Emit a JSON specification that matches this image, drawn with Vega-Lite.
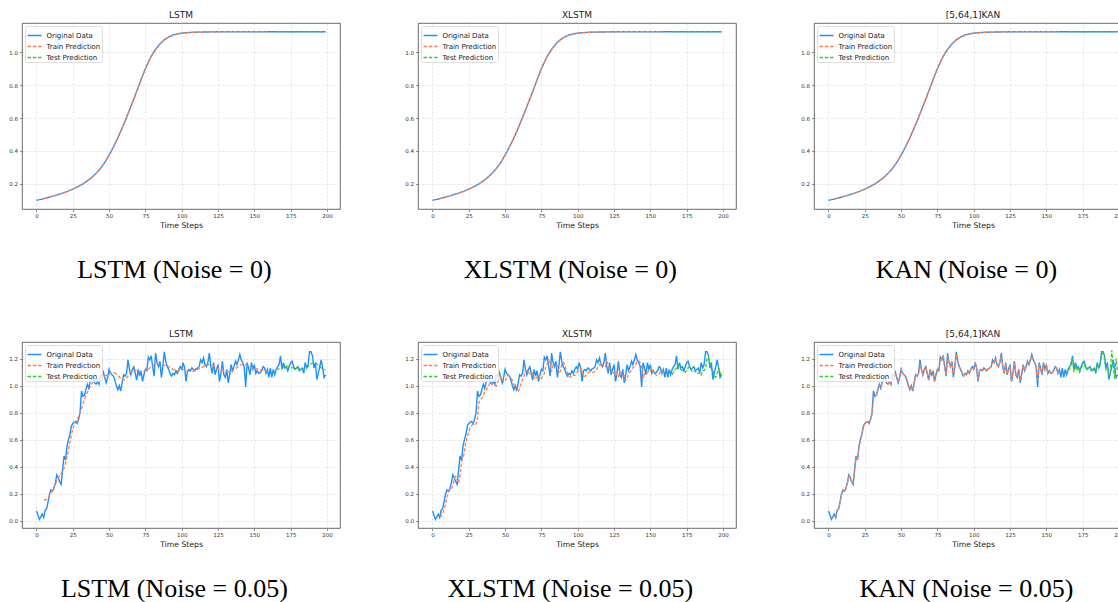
{
  "$schema": "https://vega.github.io/schema/vega-lite/v6.json",
  "padding": {"left": 8, "top": 10, "right": 0, "bottom": 0},
  "background": "white",
  "datasets": {
    "clean": [
      {"t":0,"v":0.100},{"t":5,"v":0.110},{"t":10,"v":0.122},{"t":15,"v":0.135},{"t":20,"v":0.150},{"t":25,"v":0.168},{"t":30,"v":0.190},{"t":35,"v":0.218},{"t":40,"v":0.255},{"t":45,"v":0.305},{"t":50,"v":0.375},{"t":55,"v":0.460},{"t":60,"v":0.560},{"t":65,"v":0.670},{"t":70,"v":0.785},{"t":75,"v":0.900},{"t":80,"v":0.990},{"t":85,"v":1.050},{"t":90,"v":1.088},{"t":95,"v":1.107},{"t":100,"v":1.116},{"t":105,"v":1.120},{"t":110,"v":1.122},{"t":115,"v":1.123},{"t":120,"v":1.124},{"t":130,"v":1.125},{"t":140,"v":1.125},{"t":150,"v":1.125},{"t":160,"v":1.125},{"t":170,"v":1.125},{"t":180,"v":1.125},{"t":190,"v":1.125},{"t":199,"v":1.125}
    ],
    "cleanTrain": [
      {"t":5,"v":0.110},{"t":10,"v":0.122},{"t":15,"v":0.135},{"t":20,"v":0.150},{"t":25,"v":0.168},{"t":30,"v":0.190},{"t":35,"v":0.218},{"t":40,"v":0.255},{"t":45,"v":0.305},{"t":50,"v":0.375},{"t":55,"v":0.460},{"t":60,"v":0.560},{"t":65,"v":0.670},{"t":70,"v":0.785},{"t":75,"v":0.900},{"t":80,"v":0.990},{"t":85,"v":1.050},{"t":90,"v":1.088},{"t":95,"v":1.107},{"t":100,"v":1.116},{"t":105,"v":1.120},{"t":110,"v":1.122},{"t":115,"v":1.123},{"t":120,"v":1.124},{"t":130,"v":1.125},{"t":140,"v":1.125},{"t":150,"v":1.125},{"t":159,"v":1.125}
    ],
    "cleanTest": [
      {"t":165,"v":1.125},{"t":175,"v":1.125},{"t":185,"v":1.125},{"t":199,"v":1.125}
    ],
    "noisy": [
      {"t":0,"v":0.074},{"t":1,"v":0.045},{"t":2,"v":0.012},{"t":3,"v":0.03},{"t":4,"v":0.05},{"t":5,"v":0.025},{"t":6,"v":0.08},{"t":7,"v":0.09},{"t":8,"v":0.14},{"t":9,"v":0.20},
      {"t":10,"v":0.23},{"t":11,"v":0.22},{"t":12,"v":0.24},{"t":13,"v":0.28},{"t":14,"v":0.34},{"t":15,"v":0.32},{"t":16,"v":0.29},{"t":17,"v":0.27},{"t":18,"v":0.38},{"t":19,"v":0.48},
      {"t":20,"v":0.45},{"t":21,"v":0.55},{"t":22,"v":0.60},{"t":23,"v":0.64},{"t":24,"v":0.70},{"t":25,"v":0.72},{"t":26,"v":0.73},{"t":27,"v":0.735},{"t":28,"v":0.72},{"t":29,"v":0.75},
      {"t":30,"v":0.80},{"t":31,"v":0.96},{"t":32,"v":0.92},{"t":33,"v":0.93},{"t":34,"v":0.97},{"t":35,"v":1.01},{"t":36,"v":0.98},{"t":37,"v":1.03},{"t":38,"v":1.045},{"t":39,"v":1.06},
      {"t":40,"v":1.02},{"t":41,"v":1.01},{"t":42,"v":1.03},{"t":43,"v":1.01},{"t":44,"v":1.08},{"t":45,"v":1.07},{"t":46,"v":1.10},{"t":47,"v":1.06},{"t":48,"v":1.02},{"t":49,"v":1.06},
      {"t":50,"v":1.12},{"t":51,"v":1.09},{"t":52,"v":1.08},{"t":53,"v":1.07},{"t":54,"v":1.04},{"t":55,"v":1.00},{"t":56,"v":0.97},{"t":57,"v":1.00},{"t":58,"v":0.96},{"t":59,"v":1.02},
      {"t":60,"v":1.08},{"t":61,"v":1.07},{"t":62,"v":1.09},{"t":63,"v":1.19},{"t":64,"v":1.12},{"t":65,"v":1.08},{"t":66,"v":1.12},{"t":67,"v":1.14},{"t":68,"v":1.09},{"t":69,"v":1.04},
      {"t":70,"v":1.12},{"t":71,"v":1.07},{"t":72,"v":1.11},{"t":73,"v":1.03},{"t":74,"v":1.08},{"t":75,"v":1.12},{"t":76,"v":1.11},{"t":77,"v":1.21},{"t":78,"v":1.19},{"t":79,"v":1.22},
      {"t":80,"v":1.14},{"t":81,"v":1.07},{"t":82,"v":1.24},{"t":83,"v":1.17},{"t":84,"v":1.14},{"t":85,"v":1.18},{"t":86,"v":1.06},{"t":87,"v":1.14},{"t":88,"v":1.25},{"t":89,"v":1.18},
      {"t":90,"v":1.14},{"t":91,"v":1.12},{"t":92,"v":1.09},{"t":93,"v":1.07},{"t":94,"v":1.09},{"t":95,"v":1.08},{"t":96,"v":1.11},{"t":97,"v":1.09},{"t":98,"v":1.12},{"t":99,"v":1.14},
      {"t":100,"v":1.12},{"t":101,"v":1.17},{"t":102,"v":1.13},{"t":103,"v":1.03},{"t":104,"v":1.11},{"t":105,"v":1.12},{"t":106,"v":1.11},{"t":107,"v":1.13},{"t":108,"v":1.12},{"t":109,"v":1.11},
      {"t":110,"v":1.125},{"t":111,"v":1.13},{"t":112,"v":1.14},{"t":113,"v":1.19},{"t":114,"v":1.17},{"t":115,"v":1.205},{"t":116,"v":1.155},{"t":117,"v":1.14},{"t":118,"v":1.17},{"t":119,"v":1.24},
      {"t":120,"v":1.14},{"t":121,"v":1.09},{"t":122,"v":1.17},{"t":123,"v":1.08},{"t":124,"v":1.12},{"t":125,"v":1.155},{"t":126,"v":1.03},{"t":127,"v":1.09},{"t":128,"v":1.18},{"t":129,"v":1.08},
      {"t":130,"v":1.06},{"t":131,"v":1.12},{"t":132,"v":1.02},{"t":133,"v":1.08},{"t":134,"v":1.155},{"t":135,"v":1.11},{"t":136,"v":1.14},{"t":137,"v":1.18},{"t":138,"v":1.155},{"t":139,"v":1.19},
      {"t":140,"v":1.23},{"t":141,"v":1.19},{"t":142,"v":1.17},{"t":143,"v":1.14},{"t":144,"v":0.99},{"t":145,"v":1.17},{"t":146,"v":1.13},{"t":147,"v":1.08},{"t":148,"v":1.17},{"t":149,"v":1.12},
      {"t":150,"v":1.155},{"t":151,"v":1.09},{"t":152,"v":1.11},{"t":153,"v":1.09},{"t":154,"v":1.095},{"t":155,"v":1.11},{"t":156,"v":1.14},{"t":157,"v":1.13},{"t":158,"v":1.09},{"t":159,"v":1.12},
      {"t":160,"v":1.06},{"t":161,"v":1.13},{"t":162,"v":1.06},{"t":163,"v":1.12},{"t":164,"v":1.08},{"t":165,"v":1.12},{"t":166,"v":1.14},{"t":167,"v":1.155},{"t":168,"v":1.22},{"t":169,"v":1.12},
      {"t":170,"v":1.17},{"t":171,"v":1.13},{"t":172,"v":1.14},{"t":173,"v":1.11},{"t":174,"v":1.14},{"t":175,"v":1.17},{"t":176,"v":1.18},{"t":177,"v":1.14},{"t":178,"v":1.12},{"t":179,"v":1.13},
      {"t":180,"v":1.14},{"t":181,"v":1.11},{"t":182,"v":1.12},{"t":183,"v":1.13},{"t":184,"v":1.09},{"t":185,"v":1.17},{"t":186,"v":1.13},{"t":187,"v":1.155},{"t":188,"v":1.25},{"t":189,"v":1.25},
      {"t":190,"v":1.22},{"t":191,"v":1.13},{"t":192,"v":1.17},{"t":193,"v":1.045},{"t":194,"v":1.09},{"t":195,"v":1.14},{"t":196,"v":1.19},{"t":197,"v":1.13},{"t":198,"v":1.06},{"t":199,"v":1.08}
    ],
    "lstmTrain": [
      {"t":5,"v":0.155},{"t":7,"v":0.16},{"t":9,"v":0.19},{"t":11,"v":0.23},{"t":13,"v":0.27},{"t":15,"v":0.32},{"t":17,"v":0.35},{"t":19,"v":0.39},{"t":21,"v":0.47},{"t":23,"v":0.58},
      {"t":25,"v":0.68},{"t":27,"v":0.73},{"t":29,"v":0.77},{"t":31,"v":0.83},{"t":33,"v":0.90},{"t":35,"v":0.95},{"t":37,"v":0.99},{"t":39,"v":1.03},{"t":41,"v":1.05},{"t":43,"v":1.055},
      {"t":45,"v":1.06},{"t":47,"v":1.07},{"t":49,"v":1.08},{"t":51,"v":1.09},{"t":53,"v":1.095},{"t":55,"v":1.085},{"t":57,"v":1.065},{"t":59,"v":1.04},{"t":61,"v":1.045},{"t":63,"v":1.07},
      {"t":65,"v":1.10},{"t":67,"v":1.115},{"t":69,"v":1.11},{"t":71,"v":1.105},{"t":73,"v":1.10},{"t":75,"v":1.11},{"t":77,"v":1.12},{"t":79,"v":1.14},{"t":81,"v":1.155},{"t":83,"v":1.16},
      {"t":85,"v":1.16},{"t":87,"v":1.15},{"t":89,"v":1.15},{"t":91,"v":1.14},{"t":93,"v":1.125},{"t":95,"v":1.115},{"t":97,"v":1.11},{"t":99,"v":1.115},{"t":101,"v":1.12},{"t":103,"v":1.115},
      {"t":105,"v":1.105},{"t":107,"v":1.105},{"t":109,"v":1.11},{"t":111,"v":1.12},{"t":113,"v":1.13},{"t":115,"v":1.14},{"t":117,"v":1.15},{"t":119,"v":1.155},{"t":121,"v":1.15},{"t":123,"v":1.14},
      {"t":125,"v":1.125},{"t":127,"v":1.115},{"t":129,"v":1.11},{"t":131,"v":1.105},{"t":133,"v":1.10},{"t":135,"v":1.11},{"t":137,"v":1.125},{"t":139,"v":1.14},{"t":141,"v":1.155},{"t":143,"v":1.155},
      {"t":145,"v":1.145},{"t":147,"v":1.135},{"t":149,"v":1.13},{"t":151,"v":1.125},{"t":153,"v":1.12},{"t":155,"v":1.115},{"t":157,"v":1.11},{"t":159,"v":1.105}
    ],
    "lstmTest": [
      {"t":165,"v":1.12},{"t":167,"v":1.125},{"t":169,"v":1.13},{"t":171,"v":1.145},{"t":173,"v":1.14},{"t":175,"v":1.135},{"t":177,"v":1.13},{"t":179,"v":1.13},{"t":181,"v":1.125},
      {"t":183,"v":1.12},{"t":185,"v":1.125},{"t":187,"v":1.14},{"t":189,"v":1.16},{"t":191,"v":1.17},{"t":193,"v":1.16},{"t":195,"v":1.14},{"t":197,"v":1.125},{"t":199,"v":1.115}
    ],
    "xlstmTrain": [
      {"t":5,"v":0.042},{"t":6,"v":0.035},{"t":7,"v":0.058},{"t":8,"v":0.086},{"t":9,"v":0.12},
      {"t":10,"v":0.176},{"t":11,"v":0.218},{"t":12,"v":0.224},{"t":13,"v":0.232},{"t":14,"v":0.264},{"t":15,"v":0.316},{"t":16,"v":0.328},{"t":17,"v":0.302},{"t":18,"v":0.278},{"t":19,"v":0.336},
      {"t":20,"v":0.44},{"t":21,"v":0.462},{"t":22,"v":0.51},{"t":23,"v":0.58},{"t":24,"v":0.624},{"t":25,"v":0.656},{"t":26,"v":0.692},{"t":27,"v":0.706},{"t":28,"v":0.713},{"t":29,"v":0.706},
      {"t":30,"v":0.718},{"t":31,"v":0.76},{"t":32,"v":0.876},{"t":33,"v":0.896},{"t":34,"v":0.906},{"t":35,"v":0.928},{"t":36,"v":0.962},{"t":37,"v":0.967},{"t":38,"v":0.991},{"t":39,"v":1.008},
      {"t":40,"v":1.03},{"t":41,"v":1.017},{"t":42,"v":1.003},{"t":43,"v":1.002},{"t":44,"v":0.996},{"t":45,"v":1.029},{"t":46,"v":1.041},{"t":47,"v":1.067},{"t":48,"v":1.054},{"t":49,"v":1.028},
      {"t":50,"v":1.028},{"t":51,"v":1.062},{"t":52,"v":1.073},{"t":53,"v":1.071},{"t":54,"v":1.057},{"t":55,"v":1.037},{"t":56,"v":1.006},{"t":57,"v":0.973},{"t":58,"v":0.971},{"t":59,"v":0.954},
      {"t":60,"v":0.978},{"t":61,"v":1.018},{"t":62,"v":1.043},{"t":63,"v":1.062},{"t":64,"v":1.116},{"t":65,"v":1.115},{"t":66,"v":1.094},{"t":67,"v":1.088},{"t":68,"v":1.102},{"t":69,"v":1.091},
      {"t":70,"v":1.055},{"t":71,"v":1.07},{"t":72,"v":1.059},{"t":73,"v":1.08},{"t":74,"v":1.042},{"t":75,"v":1.051},{"t":76,"v":1.07},{"t":77,"v":1.087},{"t":78,"v":1.142},{"t":79,"v":1.16},
      {"t":80,"v":1.189},{"t":81,"v":1.154},{"t":82,"v":1.101},{"t":83,"v":1.149},{"t":84,"v":1.151},{"t":85,"v":1.149},{"t":86,"v":1.146},{"t":87,"v":1.092},{"t":88,"v":1.104},{"t":89,"v":1.159},
      {"t":90,"v":1.173},{"t":91,"v":1.154},{"t":92,"v":1.118},{"t":93,"v":1.089},{"t":94,"v":1.066},{"t":95,"v":1.064},{"t":96,"v":1.061},{"t":97,"v":1.077},{"t":98,"v":1.074},{"t":99,"v":1.089},
      {"t":100,"v":1.104},{"t":101,"v":1.106},{"t":102,"v":1.129},{"t":103,"v":1.12},{"t":104,"v":1.068},{"t":105,"v":1.07},{"t":106,"v":1.079},{"t":107,"v":1.093},{"t":108,"v":1.102},{"t":109,"v":1.101},
      {"t":110,"v":1.097},{"t":111,"v":1.1},{"t":112,"v":1.105},{"t":113,"v":1.114},{"t":114,"v":1.143},{"t":115,"v":1.15},{"t":116,"v":1.172},{"t":117,"v":1.153},{"t":118,"v":1.138},{"t":119,"v":1.138},
      {"t":120,"v":1.179},{"t":121,"v":1.156},{"t":122,"v":1.115},{"t":123,"v":1.12},{"t":124,"v":1.089},{"t":125,"v":1.098},{"t":126,"v":1.11},{"t":127,"v":1.066},{"t":128,"v":1.065},{"t":129,"v":1.103},
      {"t":130,"v":1.092},{"t":131,"v":1.07},{"t":132,"v":1.074},{"t":133,"v":1.038},{"t":134,"v":1.05},{"t":135,"v":1.086},{"t":136,"v":1.098},{"t":137,"v":1.114},{"t":138,"v":1.134},{"t":139,"v":1.14},
      {"t":140,"v":1.158},{"t":141,"v":1.183},{"t":142,"v":1.182},{"t":143,"v":1.168},{"t":144,"v":1.139},{"t":145,"v":1.051},{"t":146,"v":1.09},{"t":147,"v":1.094},{"t":148,"v":1.093},{"t":149,"v":1.115},
      {"t":150,"v":1.107},{"t":151,"v":1.128},{"t":152,"v":1.096},{"t":153,"v":1.093},{"t":154,"v":1.076},{"t":155,"v":1.077},{"t":156,"v":1.082},{"t":157,"v":1.102},{"t":158,"v":1.109},{"t":159,"v":1.092}
    ],
    "xlstmTest": [
      {"t":165,"v":1.08},{"t":166,"v":1.10},{"t":167,"v":1.12},{"t":168,"v":1.13},{"t":169,"v":1.15},{"t":170,"v":1.12},{"t":171,"v":1.12},{"t":172,"v":1.11},{"t":173,"v":1.11},{"t":174,"v":1.10},
      {"t":175,"v":1.11},{"t":176,"v":1.13},{"t":177,"v":1.14},{"t":178,"v":1.12},{"t":179,"v":1.10},{"t":180,"v":1.10},{"t":181,"v":1.11},{"t":182,"v":1.09},{"t":183,"v":1.09},{"t":184,"v":1.10},
      {"t":185,"v":1.08},{"t":186,"v":1.11},{"t":187,"v":1.11},{"t":188,"v":1.13},{"t":189,"v":1.20},{"t":190,"v":1.21},{"t":191,"v":1.17},{"t":192,"v":1.12},{"t":193,"v":1.12},{"t":194,"v":1.07},
      {"t":195,"v":1.06},{"t":196,"v":1.09},{"t":197,"v":1.13},{"t":198,"v":1.10},{"t":199,"v":1.07}
    ],
    "kanTrain": [
      {"t":5,"v":0.03},{"t":6,"v":0.075},{"t":7,"v":0.09},{"t":8,"v":0.14},{"t":9,"v":0.195},
      {"t":10,"v":0.225},{"t":11,"v":0.22},{"t":12,"v":0.24},{"t":13,"v":0.28},{"t":14,"v":0.33},{"t":15,"v":0.32},{"t":16,"v":0.29},{"t":17,"v":0.275},{"t":18,"v":0.37},{"t":19,"v":0.47},
      {"t":20,"v":0.45},{"t":21,"v":0.545},{"t":22,"v":0.60},{"t":23,"v":0.64},{"t":24,"v":0.695},{"t":25,"v":0.72},{"t":26,"v":0.73},{"t":27,"v":0.735},{"t":28,"v":0.725},{"t":29,"v":0.75},
      {"t":30,"v":0.79},{"t":31,"v":0.91},{"t":32,"v":0.92},{"t":33,"v":0.93},{"t":34,"v":0.965},{"t":35,"v":1.0},{"t":36,"v":0.985},{"t":37,"v":1.025},{"t":38,"v":1.045},{"t":39,"v":1.055},
      {"t":40,"v":1.02},{"t":41,"v":1.01},{"t":42,"v":1.03},{"t":43,"v":1.01},{"t":44,"v":1.075},{"t":45,"v":1.07},{"t":46,"v":1.095},{"t":47,"v":1.06},{"t":48,"v":1.025},{"t":49,"v":1.06},
      {"t":50,"v":1.115},{"t":51,"v":1.09},{"t":52,"v":1.08},{"t":53,"v":1.07},{"t":54,"v":1.04},{"t":55,"v":1.005},{"t":56,"v":0.975},{"t":57,"v":1.0},{"t":58,"v":0.965},{"t":59,"v":1.02},
      {"t":60,"v":1.075},{"t":61,"v":1.07},{"t":62,"v":1.09},{"t":63,"v":1.16},{"t":64,"v":1.12},{"t":65,"v":1.08},{"t":66,"v":1.115},{"t":67,"v":1.135},{"t":68,"v":1.09},{"t":69,"v":1.045},
      {"t":70,"v":1.115},{"t":71,"v":1.07},{"t":72,"v":1.11},{"t":73,"v":1.035},{"t":74,"v":1.08},{"t":75,"v":1.115},{"t":76,"v":1.11},{"t":77,"v":1.2},{"t":78,"v":1.19},{"t":79,"v":1.215},
      {"t":80,"v":1.14},{"t":81,"v":1.075},{"t":82,"v":1.22},{"t":83,"v":1.17},{"t":84,"v":1.14},{"t":85,"v":1.175},{"t":86,"v":1.065},{"t":87,"v":1.14},{"t":88,"v":1.235},{"t":89,"v":1.18},
      {"t":90,"v":1.14},{"t":91,"v":1.12},{"t":92,"v":1.09},{"t":93,"v":1.07},{"t":94,"v":1.09},{"t":95,"v":1.08},{"t":96,"v":1.11},{"t":97,"v":1.09},{"t":98,"v":1.12},{"t":99,"v":1.135},
      {"t":100,"v":1.12},{"t":101,"v":1.165},{"t":102,"v":1.13},{"t":103,"v":1.04},{"t":104,"v":1.11},{"t":105,"v":1.12},{"t":106,"v":1.11},{"t":107,"v":1.13},{"t":108,"v":1.12},{"t":109,"v":1.11},
      {"t":110,"v":1.125},{"t":111,"v":1.13},{"t":112,"v":1.14},{"t":113,"v":1.18},{"t":114,"v":1.17},{"t":115,"v":1.2},{"t":116,"v":1.155},{"t":117,"v":1.14},{"t":118,"v":1.17},{"t":119,"v":1.22},
      {"t":120,"v":1.14},{"t":121,"v":1.095},{"t":122,"v":1.165},{"t":123,"v":1.085},{"t":124,"v":1.12},{"t":125,"v":1.15},{"t":126,"v":1.04},{"t":127,"v":1.09},{"t":128,"v":1.175},{"t":129,"v":1.085},
      {"t":130,"v":1.065},{"t":131,"v":1.12},{"t":132,"v":1.03},{"t":133,"v":1.08},{"t":134,"v":1.15},{"t":135,"v":1.11},{"t":136,"v":1.14},{"t":137,"v":1.175},{"t":138,"v":1.155},{"t":139,"v":1.185},
      {"t":140,"v":1.22},{"t":141,"v":1.19},{"t":142,"v":1.17},{"t":143,"v":1.14},{"t":144,"v":1.03},{"t":145,"v":1.16},{"t":146,"v":1.13},{"t":147,"v":1.085},{"t":148,"v":1.165},{"t":149,"v":1.12},
      {"t":150,"v":1.15},{"t":151,"v":1.095},{"t":152,"v":1.11},{"t":153,"v":1.09},{"t":154,"v":1.095},{"t":155,"v":1.11},{"t":156,"v":1.135},{"t":157,"v":1.13},{"t":158,"v":1.095},{"t":159,"v":1.12}
    ],
    "kanTest": [
      {"t":165,"v":1.13},{"t":166,"v":1.12},{"t":167,"v":1.17},{"t":168,"v":1.19},{"t":169,"v":1.10},{"t":170,"v":1.15},{"t":171,"v":1.11},{"t":172,"v":1.13},{"t":173,"v":1.10},{"t":174,"v":1.13},
      {"t":175,"v":1.15},{"t":176,"v":1.16},{"t":177,"v":1.13},{"t":178,"v":1.12},{"t":179,"v":1.14},{"t":180,"v":1.13},{"t":181,"v":1.12},{"t":182,"v":1.11},{"t":183,"v":1.12},{"t":184,"v":1.10},
      {"t":185,"v":1.15},{"t":186,"v":1.14},{"t":187,"v":1.16},{"t":188,"v":1.22},{"t":189,"v":1.26},{"t":190,"v":1.20},{"t":191,"v":1.12},{"t":192,"v":1.14},{"t":193,"v":1.08},{"t":194,"v":1.10},
      {"t":195,"v":1.26},{"t":196,"v":1.15},{"t":197,"v":1.05},{"t":198,"v":1.20},{"t":199,"v":1.10}
    ]
  },
  "columns": 3,
  "spacing": {"column": 63, "row": 45},
  "resolve": {"scale": {"color": "independent", "strokeDash": "independent", "x": "independent", "y": "independent"}, "legend": {"color": "independent", "strokeDash": "independent"}},
  "concat": [
    {
      "title": {"text": "LSTM (Noise = 0)", "orient": "bottom", "anchor": "middle", "font": "Liberation Serif", "fontSize": 26, "offset": 28, "color": "black"},
      "resolve": {"scale": {"color": "independent", "strokeDash": "independent"}, "legend": {"color": "independent", "strokeDash": "independent"}},
      "vconcat": [{
        "width": 318, "height": 186,
        "title": {"text": "LSTM", "frame": "group"},
        "encoding": {
          "x": {"field": "t", "type": "quantitative", "scale": {"domain": [-9.95, 208.95], "nice": false, "zero": false}, "axis": {"values": [0,25,50,75,100,125,150,175,200], "title": "Time Steps"}},
          "y": {"field": "v", "type": "quantitative", "scale": {"domain": [0.047, 1.178], "nice": false, "zero": false}, "axis": {"values": [0.2,0.4,0.6,0.8,1.0], "format": ".1f", "title": null}}
        },
        "layer": [
          {"data": {"name": "clean"}, "mark": {"type": "line", "strokeWidth": 1.4, "interpolate": "monotone"}, "encoding": {"color": {"datum": "Original Data", "scale": {"domain": ["Original Data","Train Prediction","Test Prediction"], "range": ["#1e90ff","#ff7f50","#32cd32"]}}, "strokeDash": {"datum": "Original Data", "scale": {"domain": ["Original Data","Train Prediction","Test Prediction"], "range": [[1,0],[3.5,1.8],[3.5,1.8]]}}}},
          {"data": {"name": "cleanTrain"}, "mark": {"type": "line", "strokeWidth": 1.3, "interpolate": "monotone"}, "encoding": {"color": {"datum": "Train Prediction"}, "strokeDash": {"datum": "Train Prediction"}}},
          {"data": {"name": "cleanTest"}, "mark": {"type": "line", "strokeWidth": 1.3}, "encoding": {"color": {"datum": "Test Prediction"}, "strokeDash": {"datum": "Test Prediction"}}}
        ]
      }]
    },
    {
      "title": {"text": "XLSTM (Noise = 0)", "orient": "bottom", "anchor": "middle", "font": "Liberation Serif", "fontSize": 26, "offset": 28, "color": "black"},
      "resolve": {"scale": {"color": "independent", "strokeDash": "independent"}, "legend": {"color": "independent", "strokeDash": "independent"}},
      "vconcat": [{
        "width": 318, "height": 186,
        "title": {"text": "XLSTM", "frame": "group"},
        "encoding": {
          "x": {"field": "t", "type": "quantitative", "scale": {"domain": [-9.95, 208.95], "nice": false, "zero": false}, "axis": {"values": [0,25,50,75,100,125,150,175,200], "title": "Time Steps"}},
          "y": {"field": "v", "type": "quantitative", "scale": {"domain": [0.047, 1.178], "nice": false, "zero": false}, "axis": {"values": [0.2,0.4,0.6,0.8,1.0], "format": ".1f", "title": null}}
        },
        "layer": [
          {"data": {"name": "clean"}, "mark": {"type": "line", "strokeWidth": 1.4, "interpolate": "monotone"}, "encoding": {"color": {"datum": "Original Data", "scale": {"domain": ["Original Data","Train Prediction","Test Prediction"], "range": ["#1e90ff","#ff7f50","#32cd32"]}}, "strokeDash": {"datum": "Original Data", "scale": {"domain": ["Original Data","Train Prediction","Test Prediction"], "range": [[1,0],[3.5,1.8],[3.5,1.8]]}}}},
          {"data": {"name": "cleanTrain"}, "mark": {"type": "line", "strokeWidth": 1.3, "interpolate": "monotone"}, "encoding": {"color": {"datum": "Train Prediction"}, "strokeDash": {"datum": "Train Prediction"}}},
          {"data": {"name": "cleanTest"}, "mark": {"type": "line", "strokeWidth": 1.3}, "encoding": {"color": {"datum": "Test Prediction"}, "strokeDash": {"datum": "Test Prediction"}}}
        ]
      }]
    },
    {
      "title": {"text": "KAN (Noise = 0)", "orient": "bottom", "anchor": "middle", "font": "Liberation Serif", "fontSize": 26, "offset": 28, "color": "black"},
      "resolve": {"scale": {"color": "independent", "strokeDash": "independent"}, "legend": {"color": "independent", "strokeDash": "independent"}},
      "vconcat": [{
        "width": 318, "height": 186,
        "title": {"text": "[5,64,1]KAN", "frame": "group"},
        "encoding": {
          "x": {"field": "t", "type": "quantitative", "scale": {"domain": [-9.95, 208.95], "nice": false, "zero": false}, "axis": {"values": [0,25,50,75,100,125,150,175,200], "title": "Time Steps"}},
          "y": {"field": "v", "type": "quantitative", "scale": {"domain": [0.047, 1.178], "nice": false, "zero": false}, "axis": {"values": [0.2,0.4,0.6,0.8,1.0], "format": ".1f", "title": null}}
        },
        "layer": [
          {"data": {"name": "clean"}, "mark": {"type": "line", "strokeWidth": 1.4, "interpolate": "monotone"}, "encoding": {"color": {"datum": "Original Data", "scale": {"domain": ["Original Data","Train Prediction","Test Prediction"], "range": ["#1e90ff","#ff7f50","#32cd32"]}}, "strokeDash": {"datum": "Original Data", "scale": {"domain": ["Original Data","Train Prediction","Test Prediction"], "range": [[1,0],[3.5,1.8],[3.5,1.8]]}}}},
          {"data": {"name": "cleanTrain"}, "mark": {"type": "line", "strokeWidth": 1.3, "interpolate": "monotone"}, "encoding": {"color": {"datum": "Train Prediction"}, "strokeDash": {"datum": "Train Prediction"}}},
          {"data": {"name": "cleanTest"}, "mark": {"type": "line", "strokeWidth": 1.3}, "encoding": {"color": {"datum": "Test Prediction"}, "strokeDash": {"datum": "Test Prediction"}}}
        ]
      }]
    },
    {
      "title": {"text": "LSTM (Noise = 0.05)", "orient": "bottom", "anchor": "middle", "font": "Liberation Serif", "fontSize": 26, "offset": 28, "color": "black"},
      "resolve": {"scale": {"color": "independent", "strokeDash": "independent"}, "legend": {"color": "independent", "strokeDash": "independent"}},
      "vconcat": [{
        "width": 318, "height": 186,
        "title": {"text": "LSTM", "frame": "group"},
        "encoding": {
          "x": {"field": "t", "type": "quantitative", "scale": {"domain": [-9.95, 208.95], "nice": false, "zero": false}, "axis": {"values": [0,25,50,75,100,125,150,175,200], "title": "Time Steps"}},
          "y": {"field": "v", "type": "quantitative", "scale": {"domain": [-0.052, 1.322], "nice": false, "zero": false}, "axis": {"values": [0,0.2,0.4,0.6,0.8,1.0,1.2], "format": ".1f", "title": null}}
        },
        "layer": [
          {"data": {"name": "noisy"}, "mark": {"type": "line", "strokeWidth": 1.4}, "encoding": {"color": {"datum": "Original Data", "scale": {"domain": ["Original Data","Train Prediction","Test Prediction"], "range": ["#1e90ff","#ff7f50","#32cd32"]}}, "strokeDash": {"datum": "Original Data", "scale": {"domain": ["Original Data","Train Prediction","Test Prediction"], "range": [[1,0],[3.5,1.8],[3.5,1.8]]}}}},
          {"data": {"name": "lstmTrain"}, "mark": {"type": "line", "strokeWidth": 1.3, "interpolate": "monotone"}, "encoding": {"color": {"datum": "Train Prediction"}, "strokeDash": {"datum": "Train Prediction"}}},
          {"data": {"name": "lstmTest"}, "mark": {"type": "line", "strokeWidth": 1.3, "interpolate": "monotone"}, "encoding": {"color": {"datum": "Test Prediction"}, "strokeDash": {"datum": "Test Prediction"}}}
        ]
      }]
    },
    {
      "title": {"text": "XLSTM (Noise = 0.05)", "orient": "bottom", "anchor": "middle", "font": "Liberation Serif", "fontSize": 26, "offset": 28, "color": "black"},
      "resolve": {"scale": {"color": "independent", "strokeDash": "independent"}, "legend": {"color": "independent", "strokeDash": "independent"}},
      "vconcat": [{
        "width": 318, "height": 186,
        "title": {"text": "XLSTM", "frame": "group"},
        "encoding": {
          "x": {"field": "t", "type": "quantitative", "scale": {"domain": [-9.95, 208.95], "nice": false, "zero": false}, "axis": {"values": [0,25,50,75,100,125,150,175,200], "title": "Time Steps"}},
          "y": {"field": "v", "type": "quantitative", "scale": {"domain": [-0.052, 1.322], "nice": false, "zero": false}, "axis": {"values": [0,0.2,0.4,0.6,0.8,1.0,1.2], "format": ".1f", "title": null}}
        },
        "layer": [
          {"data": {"name": "noisy"}, "mark": {"type": "line", "strokeWidth": 1.4}, "encoding": {"color": {"datum": "Original Data", "scale": {"domain": ["Original Data","Train Prediction","Test Prediction"], "range": ["#1e90ff","#ff7f50","#32cd32"]}}, "strokeDash": {"datum": "Original Data", "scale": {"domain": ["Original Data","Train Prediction","Test Prediction"], "range": [[1,0],[3.5,1.8],[3.5,1.8]]}}}},
          {"data": {"name": "xlstmTrain"}, "mark": {"type": "line", "strokeWidth": 1.3}, "encoding": {"color": {"datum": "Train Prediction"}, "strokeDash": {"datum": "Train Prediction"}}},
          {"data": {"name": "xlstmTest"}, "mark": {"type": "line", "strokeWidth": 1.3}, "encoding": {"color": {"datum": "Test Prediction"}, "strokeDash": {"datum": "Test Prediction"}}}
        ]
      }]
    },
    {
      "title": {"text": "KAN (Noise = 0.05)", "orient": "bottom", "anchor": "middle", "font": "Liberation Serif", "fontSize": 26, "offset": 28, "color": "black"},
      "resolve": {"scale": {"color": "independent", "strokeDash": "independent"}, "legend": {"color": "independent", "strokeDash": "independent"}},
      "vconcat": [{
        "width": 318, "height": 186,
        "title": {"text": "[5,64,1]KAN", "frame": "group"},
        "encoding": {
          "x": {"field": "t", "type": "quantitative", "scale": {"domain": [-9.95, 208.95], "nice": false, "zero": false}, "axis": {"values": [0,25,50,75,100,125,150,175,200], "title": "Time Steps"}},
          "y": {"field": "v", "type": "quantitative", "scale": {"domain": [-0.052, 1.322], "nice": false, "zero": false}, "axis": {"values": [0,0.2,0.4,0.6,0.8,1.0,1.2], "format": ".1f", "title": null}}
        },
        "layer": [
          {"data": {"name": "noisy"}, "mark": {"type": "line", "strokeWidth": 1.4}, "encoding": {"color": {"datum": "Original Data", "scale": {"domain": ["Original Data","Train Prediction","Test Prediction"], "range": ["#1e90ff","#ff7f50","#32cd32"]}}, "strokeDash": {"datum": "Original Data", "scale": {"domain": ["Original Data","Train Prediction","Test Prediction"], "range": [[1,0],[3.5,1.8],[3.5,1.8]]}}}},
          {"data": {"name": "kanTrain"}, "mark": {"type": "line", "strokeWidth": 1.3}, "encoding": {"color": {"datum": "Train Prediction"}, "strokeDash": {"datum": "Train Prediction"}}},
          {"data": {"name": "kanTest"}, "mark": {"type": "line", "strokeWidth": 1.3}, "encoding": {"color": {"datum": "Test Prediction"}, "strokeDash": {"datum": "Test Prediction"}}}
        ]
      }]
    }
  ],
  "config": {
    "font": "DejaVu Sans",
    "view": {"stroke": "#444", "strokeWidth": 0.8},
    "axis": {"labelFontSize": 5.5, "labelColor": "#333", "tickColor": "#444", "tickSize": 2.5, "tickWidth": 0.6, "domain": false, "grid": true, "gridDash": [2, 2], "gridColor": "#cfcfcf", "gridWidth": 0.6, "titleFontSize": 7.7, "titleFontWeight": "normal", "titleColor": "#222", "labelPadding": 2, "titlePadding": 2},
    "title": {"fontSize": 9, "fontWeight": "normal", "color": "#222", "offset": 3},
    "legend": {"orient": "top-left", "offset": 3, "padding": 1.5, "fillColor": "rgba(255,255,255,0.8)", "strokeColor": "#dddddd", "cornerRadius": 2, "labelFontSize": 7, "labelColor": "#222", "symbolType": "stroke", "symbolSize": 196, "symbolStrokeWidth": 1.3, "rowPadding": -4, "title": null, "labelOffset": 4}
  }
}
